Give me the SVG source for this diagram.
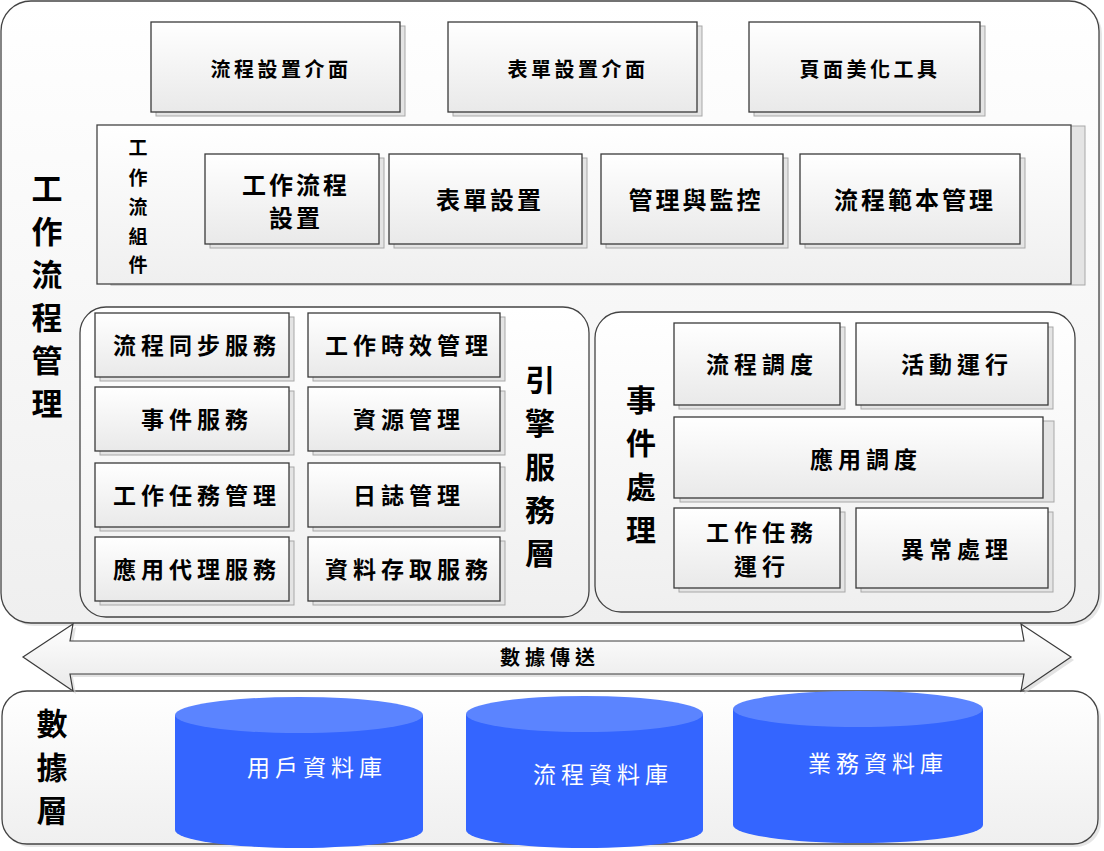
<svg xmlns="http://www.w3.org/2000/svg" width="1104" height="851" viewBox="0 0 1104 851">
<defs>
<linearGradient id="g" x1="0" y1="0" x2="0" y2="1">
<stop offset="0" stop-color="#ffffff"/>
<stop offset="1" stop-color="#e9e9e9"/>
</linearGradient>
<linearGradient id="gp" x1="0" y1="0" x2="0" y2="1">
<stop offset="0" stop-color="#ffffff"/>
<stop offset="1" stop-color="#efefef"/>
</linearGradient>
<style>
.sh{fill:#e4e4e4;stroke:#a8a8a8;stroke-width:1}
.bx{fill:url(#g);stroke:#3a3a3a;stroke-width:1.3}
.pn{fill:url(#gp);stroke:#444;stroke-width:1.3}
.psh{fill:#d6d6d6;opacity:0.6}
.t{font-family:"Noto Sans CJK TC","Noto Sans CJK SC",sans-serif;font-weight:700;fill:#000;text-anchor:middle;dominant-baseline:central}
.s20{font-size:20px;letter-spacing:3.5px}
.s24{font-size:24px;letter-spacing:3px}
.s23{font-size:23px;letter-spacing:5px}
.v32{font-size:31px}
.v30{font-size:30px}
.v20{font-size:19px}
.db{font-family:"Noto Sans CJK TC","Noto Sans CJK SC",sans-serif;font-weight:400;font-size:23px;letter-spacing:5px;fill:#fff;text-anchor:middle;dominant-baseline:central}
.cb{fill:#3465ff}
.ct{fill:#5b84ff}
</style>
</defs>

<g id="workflow-mgmt">
<rect class="psh" x="4" y="4" width="1098" height="622" rx="30"/>
<rect class="pn" x="1" y="1" width="1098" height="622" rx="30"/>
<text class="t v32" x="47" y="186">工</text>
<text class="t v32" x="47" y="229">作</text>
<text class="t v32" x="47" y="272">流</text>
<text class="t v32" x="47" y="315">程</text>
<text class="t v32" x="47" y="358">管</text>
<text class="t v32" x="47" y="401">理</text>
</g>

<g id="flow-ui">
<rect class="sh" x="156" y="26" width="249" height="90"/>
<rect class="bx" x="151" y="22" width="249" height="90"/>
<text class="t s20" x="281" y="68">流程設置介面</text>
</g>
<g id="form-ui">
<rect class="sh" x="453" y="26" width="249" height="90"/>
<rect class="bx" x="448" y="22" width="249" height="90"/>
<text class="t s20" x="578" y="68">表單設置介面</text>
</g>
<g id="page-tool">
<rect class="sh" x="754" y="26" width="231" height="90"/>
<rect class="bx" x="749" y="22" width="231" height="90"/>
<text class="t s20" x="870" y="68">頁面美化工具</text>
</g>

<g id="components">
<rect class="sh" x="111" y="126" width="974" height="159"/>
<rect class="pn" x="97" y="125" width="974" height="159"/>
<text class="t v20" x="138" y="146">工</text>
<text class="t v20" x="138" y="176">作</text>
<text class="t v20" x="138" y="205">流</text>
<text class="t v20" x="138" y="235">組</text>
<text class="t v20" x="138" y="263">件</text>
</g>
<g id="flow-setting">
<rect class="sh" x="210" y="158" width="174" height="90"/>
<rect class="bx" x="205" y="154" width="174" height="90"/>
<text class="t s24" x="296" y="183">工作流程</text>
<text class="t s24" x="296" y="216">設置</text>
</g>
<g id="form-setting">
<rect class="sh" x="394" y="158" width="193" height="90"/>
<rect class="bx" x="389" y="154" width="193" height="90"/>
<text class="t s24" x="490" y="198">表單設置</text>
</g>
<g id="monitor">
<rect class="sh" x="606" y="158" width="182" height="90"/>
<rect class="bx" x="601" y="154" width="182" height="90"/>
<text class="t s24" x="696" y="198">管理與監控</text>
</g>
<g id="template">
<rect class="sh" x="805" y="158" width="220" height="90"/>
<rect class="bx" x="800" y="154" width="220" height="90"/>
<text class="t s24" x="915" y="198">流程範本管理</text>
</g>

<g id="engine">
<rect class="pn" x="80" y="307" width="509" height="310" rx="26"/>
<text class="t v30" x="540" y="378">引</text>
<text class="t v30" x="540" y="421">擎</text>
<text class="t v30" x="540" y="465">服</text>
<text class="t v30" x="540" y="508">務</text>
<text class="t v30" x="540" y="551">層</text>
</g>
<g id="e1"><rect class="sh" x="100" y="317" width="194" height="64"/><rect class="bx" x="95" y="313" width="194" height="64"/><text class="t s23" x="197" y="344">流程同步服務</text></g>
<g id="e2"><rect class="sh" x="313" y="317" width="192" height="64"/><rect class="bx" x="308" y="313" width="192" height="64"/><text class="t s23" x="409" y="344">工作時效管理</text></g>
<g id="e3"><rect class="sh" x="100" y="391" width="194" height="64"/><rect class="bx" x="95" y="387" width="194" height="64"/><text class="t s23" x="197" y="418">事件服務</text></g>
<g id="e4"><rect class="sh" x="313" y="391" width="192" height="64"/><rect class="bx" x="308" y="387" width="192" height="64"/><text class="t s23" x="409" y="418">資源管理</text></g>
<g id="e5"><rect class="sh" x="100" y="467" width="194" height="64"/><rect class="bx" x="95" y="463" width="194" height="64"/><text class="t s23" x="197" y="494">工作任務管理</text></g>
<g id="e6"><rect class="sh" x="313" y="467" width="192" height="64"/><rect class="bx" x="308" y="463" width="192" height="64"/><text class="t s23" x="409" y="494">日誌管理</text></g>
<g id="e7"><rect class="sh" x="100" y="541" width="194" height="64"/><rect class="bx" x="95" y="537" width="194" height="64"/><text class="t s23" x="197" y="568">應用代理服務</text></g>
<g id="e8"><rect class="sh" x="313" y="541" width="192" height="64"/><rect class="bx" x="308" y="537" width="192" height="64"/><text class="t s23" x="409" y="568">資料存取服務</text></g>

<g id="event">
<rect class="pn" x="595" y="312" width="480" height="300" rx="26"/>
<text class="t v30" x="641" y="398">事</text>
<text class="t v30" x="641" y="441">件</text>
<text class="t v30" x="641" y="485">處</text>
<text class="t v30" x="641" y="528">理</text>
</g>
<g id="v1"><rect class="sh" x="679" y="327" width="166" height="82"/><rect class="bx" x="674" y="323" width="166" height="82"/><text class="t s23" x="762" y="363">流程調度</text></g>
<g id="v2"><rect class="sh" x="861" y="327" width="192" height="82"/><rect class="bx" x="856" y="323" width="192" height="82"/><text class="t s23" x="957" y="363">活動運行</text></g>
<g id="v3"><rect class="sh" x="680" y="421" width="374" height="81"/><rect class="bx" x="674" y="417" width="369" height="81"/><text class="t s23" x="866" y="458">應用調度</text></g>
<g id="v4"><rect class="sh" x="679" y="512" width="166" height="80"/><rect class="bx" x="674" y="508" width="166" height="80"/><text class="t s23" x="762" y="531">工作任務</text><text class="t s23" x="762" y="565">運行</text></g>
<g id="v5"><rect class="sh" x="861" y="512" width="192" height="80"/><rect class="bx" x="856" y="508" width="192" height="80"/><text class="t s23" x="957" y="548">異常處理</text></g>

<g id="data-layer">
<rect class="psh" x="5" y="694" width="1096" height="153" rx="25"/>
<rect class="pn" x="2" y="691" width="1096" height="153" rx="25"/>
<text class="t v32" x="52" y="721">數</text>
<text class="t v32" x="52" y="765">據</text>
<text class="t v32" x="52" y="808">層</text>
</g>

<g id="connectors">
<path d="M26,660 L76,627 L73,644 L1027,644 L1024,627 L1074,660 L1024,694 L1027,677 L73,677 L76,694 Z" fill="#d0d0d0" opacity="0.6"/>
<path d="M23,657 L73,624 L70,641 L1024,641 L1021,624 L1071,657 L1021,691 L1024,674 L70,674 L73,691 Z" fill="url(#g)" stroke="#3a3a3a" stroke-width="1.2" stroke-linejoin="miter"/>
<text class="t" style="font-size:20px;letter-spacing:5px" x="550" y="656">數據傳送</text>
</g>

<g id="db-user">
<path class="cb" d="M175,715 L175,830 A124,18 0 0 0 423,830 L423,715 Z"/>
<ellipse class="ct" cx="299" cy="715" rx="124" ry="18"/>
<text class="db" x="317" y="766">用戶資料庫</text>
</g>
<g id="db-flow">
<path class="cb" d="M466,714 L466,830 A118.5,18 0 0 0 703,830 L703,714 Z"/>
<ellipse class="ct" cx="584.5" cy="714" rx="118.5" ry="18"/>
<text class="db" x="603" y="773">流程資料庫</text>
</g>
<g id="db-biz">
<path class="cb" d="M733,709 L733,825 A125,18 0 0 0 983,825 L983,709 Z"/>
<ellipse class="ct" cx="858" cy="709" rx="125" ry="18"/>
<text class="db" x="878" y="762">業務資料庫</text>
</g>
</svg>
